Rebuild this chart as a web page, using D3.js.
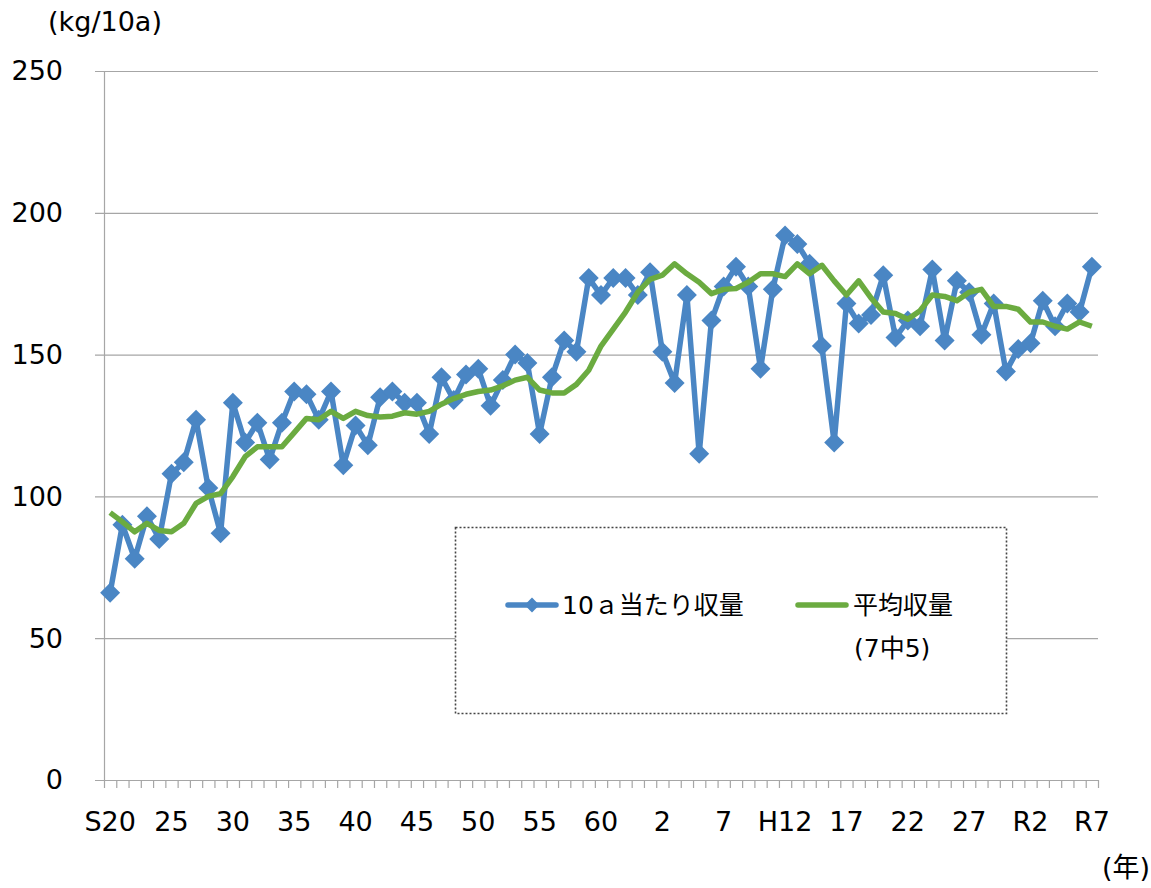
<!DOCTYPE html>
<html>
<head>
<meta charset="utf-8">
<script src="https://cdn.jsdelivr.net/npm/d3@7"></script>
<style>
  body { margin: 0; background: #fff; }
  text { font-family: "DejaVu Sans", "Noto Sans CJK JP", sans-serif; fill: #000; }
</style>
</head>
<body>
<div id="chart"></div>
<script>
// years S20 (1945) .. R7 (2025)
const years = [1945,1946,1947,1948,1949,1950,1951,1952,1953,1954,1955,1956,1957,1958,1959,
  1960,1961,1962,1963,1964,1965,1966,1967,1968,1969,1970,1971,1972,1973,1974,1975,1976,1977,
  1978,1979,1980,1981,1982,1983,1984,1985,1986,1987,1988,1989,1990,1991,1992,1993,1994,1995,
  1996,1997,1998,1999,2000,2001,2002,2003,2004,2005,2006,2007,2008,2009,2010,2011,2012,2013,
  2014,2015,2016,2017,2018,2019,2020,2021,2022,2023,2024,2025]

// 10a当たり収量
const yieldPer10a = [66,90,78,93,85,108,112,127,103,87,133,119,126,113,126,137,136,127,137,111,
  125,118,135,137,133,133,122,142,134,143,145,132,141,150,147,122,142,155,151,177,171,177,177,
  171,179,151,140,171,115,162,174,181,174,145,173,192,189,182,153,119,168,161,164,178,156,162,
  160,180,155,176,172,157,168,144,152,154,169,160,168,165,181]

// 平均収量 (7中5)
const avgYield = [94.3,91,87.5,90.5,88,87.5,90.5,97.5,100,101,107,114,117.5,117.5,117.5,122.5,
  127.5,127,130,127.5,130,128.5,128,128.3,129.5,129,130,132.5,134.5,136,137,137.5,139,141,142,
  137.5,136.5,136.5,139.5,144.5,153,159,165,172,176.5,178,182,178.5,175.5,171.5,173,173.3,175.5,
  178.5,178.5,177.5,182,178.5,181.5,176,171,176,170,165,164.5,162.5,165.5,171,170.5,169,172,173,
  167,167,166,161.5,161.5,160,159,161.5,160]

const tickYears = [1945,1950,1955,1960,1965,1970,1975,1980,1985,1990,1995,2000,2005,2010,2015,2020,2025]
const tickLabels = ["S20","25","30","35","40","45","50","55","60","2","7","H12","17","22","27","R2","R7"]
const yTicks = [0,50,100,150,200,250]

const width = 1151
const height = 888
const plotLeft = 104, plotRight = 1098, plotTop = 71, plotBottom = 780

const blue = "#4a86c4"
const green = "#6bab40"
const gridColor = "#a6a6a6"

let svg = d3.select("#chart")
  .append("svg")
  .attr("width", width)
  .attr("height", height)

let x = d3.scaleBand()
  .domain(years)
  .range([plotLeft, plotRight])
  .padding(0)

let y = d3.scaleLinear()
  .domain([0, 250])
  .range([plotBottom, plotTop])

const cx = function(yr) { return x(yr) + x.bandwidth() / 2 }

// gridlines + y labels
svg.selectAll(".grid")
  .data(yTicks)
  .enter().append("line")
  .attr("class", "grid")
  .attr("x1", plotLeft - 9)
  .attr("x2", plotRight)
  .attr("y1", d => y(d) + 0.5)
  .attr("y2", d => y(d) + 0.5)
  .attr("stroke", gridColor)
  .attr("stroke-width", 1.2)

svg.selectAll(".ylab")
  .data(yTicks)
  .enter().append("text")
  .attr("class", "ylab")
  .attr("x", 63)
  .attr("y", d => y(d))
  .attr("dy", "0.35em")
  .attr("text-anchor", "end")
  .attr("font-size", 27)
  .text(d => d)

// y axis line
svg.append("line")
  .attr("x1", plotLeft + 0.5).attr("x2", plotLeft + 0.5)
  .attr("y1", plotTop).attr("y2", plotBottom)
  .attr("stroke", gridColor)
  .attr("stroke-width", 1.2)

// x axis: ticks between categories
const boundaries = years.map(d => x(d)).concat([plotRight])
svg.selectAll(".xtick")
  .data(boundaries)
  .enter().append("line")
  .attr("class", "xtick")
  .attr("x1", d => d + 0.5)
  .attr("x2", d => d + 0.5)
  .attr("y1", plotBottom)
  .attr("y2", plotBottom + 8)
  .attr("stroke", gridColor)
  .attr("stroke-width", 1.2)

svg.selectAll(".xlab")
  .data(tickYears)
  .enter().append("text")
  .attr("class", "xlab")
  .attr("x", d => cx(d))
  .attr("y", 822)
  .attr("dy", "0.35em")
  .attr("text-anchor", "middle")
  .attr("font-size", 27)
  .text((d, i) => tickLabels[i])

// units
svg.append("text")
  .attr("x", 105).attr("y", 22).attr("dy", "0.35em")
  .attr("text-anchor", "middle")
  .attr("font-size", 27)
  .text("(kg/10a)")

svg.append("text")
  .attr("x", 1150).attr("y", 868).attr("dy", "0.35em")
  .attr("text-anchor", "end")
  .attr("font-size", 27)
  .text("(年)")

// 10a当たり収量 line + markers
let blueLine = d3.line()
  .x((d, i) => cx(years[i]))
  .y(d => y(d))

svg.append("path")
  .datum(yieldPer10a)
  .attr("d", blueLine)
  .attr("fill", "none")
  .attr("stroke", blue)
  .attr("stroke-width", 5.5)
  .attr("stroke-linejoin", "round")

let diamond = d3.symbol().type(d3.symbolSquare).size(200)

svg.selectAll(".pt")
  .data(yieldPer10a)
  .enter().append("path")
  .attr("class", "pt")
  .attr("d", diamond)
  .attr("transform", (d, i) => `translate(${cx(years[i])},${y(d)}) rotate(45)`)
  .attr("fill", blue)

// 平均収量 line
let greenLine = d3.line()
  .x((d, i) => cx(years[i]))
  .y(d => y(d))

svg.append("path")
  .datum(avgYield)
  .attr("d", greenLine)
  .attr("fill", "none")
  .attr("stroke", green)
  .attr("stroke-width", 5.5)
  .attr("stroke-linejoin", "round")

// legend
let legend = svg.append("g")

legend.append("rect")
  .attr("x", 455.5).attr("y", 527.5)
  .attr("width", 551).attr("height", 186)
  .attr("fill", "#fff")
  .attr("stroke", "#444")
  .attr("stroke-width", 1.6)
  .attr("stroke-dasharray", "2,2")

legend.append("line")
  .attr("x1", 508).attr("x2", 556)
  .attr("y1", 605).attr("y2", 605)
  .attr("stroke", blue).attr("stroke-width", 5.5)
  .attr("stroke-linecap", "round")

legend.append("path")
  .attr("d", d3.symbol().type(d3.symbolSquare).size(110))
  .attr("transform", "translate(532,605) rotate(45)")
  .attr("fill", blue)

legend.append("text")
  .attr("x", 562).attr("y", 605).attr("dy", "0.35em")
  .attr("font-size", 25)
  .text("10ａ当たり収量")

legend.append("line")
  .attr("x1", 798).attr("x2", 846)
  .attr("y1", 605).attr("y2", 605)
  .attr("stroke", green).attr("stroke-width", 5.5)
  .attr("stroke-linecap", "round")

legend.append("text")
  .attr("x", 853).attr("y", 605).attr("dy", "0.35em")
  .attr("font-size", 25)
  .text("平均収量")

legend.append("text")
  .attr("x", 854).attr("y", 648).attr("dy", "0.35em")
  .attr("font-size", 25)
  .text("(7中5)")
</script>
</body>
</html>
